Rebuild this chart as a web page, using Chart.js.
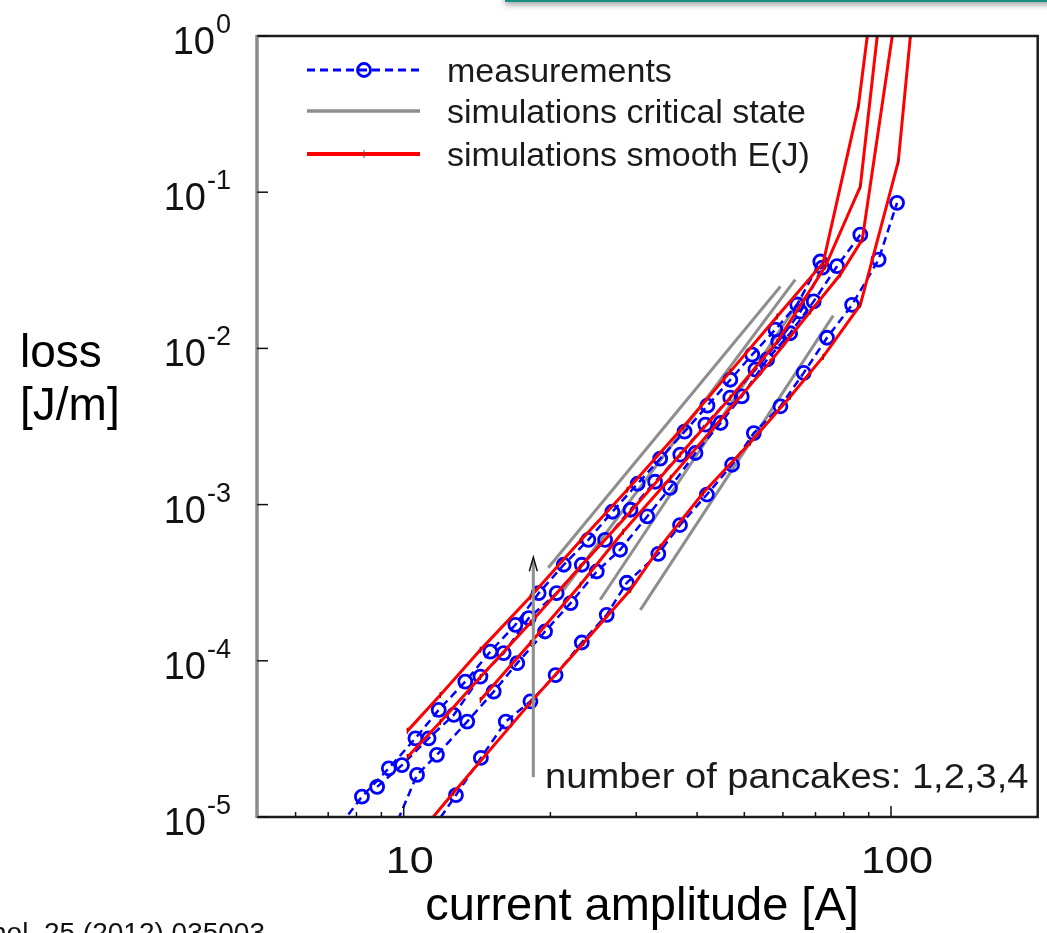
<!DOCTYPE html>
<html>
<head>
<meta charset="utf-8">
<style>
  html, body { margin: 0; padding: 0; background: #fff; overflow: hidden; }
  #wrap { position: relative; width: 1047px; height: 933px; overflow: hidden; }
  #topbox { position: absolute; left: 505px; top: -40px; width: 560px; height: 40px;
            background: #f4f8f7; border-bottom: 2px solid #17907f;
            box-shadow: 0 3px 6px rgba(0,0,0,0.35); }
  #cite { position: absolute; right: 782px; top: 917px; white-space: nowrap;
          font: 28px 'Liberation Sans', Arial, sans-serif; color: #111; }
</style>
<script src="https://cdn.jsdelivr.net/npm/chart.js@4.4.1/dist/chart.umd.min.js"></script>
</head>
<body>
<div id="wrap">
  <canvas id="lossChart" width="1047" height="933"></canvas>
  <div id="topbox"></div>
  <div id="cite">Supercond. Sci. Technol. 25 (2012) 035003</div>
</div>
<script>
// measurements, 1..4 pancakes (current amplitude [A], loss [J/m])
const meas1I = [11.5, 12.8, 14.4, 16.2, 18.2, 20.5, 23.2, 26.1, 28.7, 33.3, 36.9, 41.9, 47.2, 52.3, 59.3, 66.2, 73.9, 83.2, 94.3, 102.9];
const meas1Q = [8.5e-6, 1.38e-5, 2.39e-5, 4.08e-5, 5.5e-5, 8.1e-5, 1.31e-4, 1.97e-4, 3.16e-4, 4.84e-4, 7.4e-4, 1.16e-3, 1.8e-3, 2.87e-3, 4.26e-3, 6.97e-3, 0.0117, 0.019, 0.037, 0.0855];
const meas2I = [9.5, 10.65, 11.7, 13.5, 15.3, 17.1, 19.5, 22.0, 24.9, 27.8, 31.6, 35.2, 39.7, 44.7, 49.4, 55.7, 62.1, 69.4, 77.5, 86.5];
const meas2Q = [8e-6, 1.86e-5, 2.5e-5, 4.08e-5, 6.35e-5, 9.66e-5, 1.54e-4, 2.34e-4, 3.73e-4, 5.14e-4, 8.4e-4, 1.28e-3, 2.14e-3, 3.33e-3, 4.93e-3, 8.5e-3, 0.0125, 0.0200, 0.0336, 0.0535];
const meas3I = [8.82, 9.92, 11.25, 12.67, 14.37, 16.04, 18.05, 20.6, 23.2, 25.9, 29.2, 32.8, 36.95, 41.6, 46.8, 52.7, 58.7, 65.2, 72.3];
const meas3Q = [1.56e-5, 2.15e-5, 3.19e-5, 4.5e-5, 7.92e-5, 1.12e-4, 1.875e-4, 2.71e-4, 4.12e-4, 5.95e-4, 9.27e-4, 1.40e-3, 2.09e-3, 3.25e-3, 4.84e-3, 7.31e-3, 0.01105, 0.0172, 0.0329];
const meas4I = [7.42, 8.21, 9.32, 10.57, 11.8, 13.38, 15.06, 16.95, 18.92, 21.3, 23.93, 26.8, 30.2, 33.6, 37.7, 42.0, 46.8, 51.9, 57.9, 64.2, 71.6];
const meas4Q = [8.9e-6, 1.35e-5, 2.05e-5, 3.19e-5, 4.85e-5, 7.36e-5, 1.146e-4, 1.70e-4, 2.71e-4, 4.12e-4, 5.95e-4, 9.0e-4, 1.36e-3, 1.97e-3, 2.93e-3, 4.3e-3, 6.3e-3, 9.12e-3, 0.0132, 0.0191, 0.036];

// simulations, smooth E(J)
const sim1I = [11.0, 12.65, 18.2, 23.4, 29.2, 33.6, 41.2, 51.4, 62.1, 72.6, 86.5, 103.5, 109.6, 112];
const sim1Q = [8.5e-6, 1.43e-5, 5.4e-5, 1.3e-4, 2.85e-4, 5.37e-4, 1.19e-3, 2.49e-3, 4.9e-3, 8.85e-3, 0.019, 0.157, 1.0, 1.6];
const sim2I = [14.37, 18.2, 23.04, 28.2, 35.3, 44.7, 56.5, 68.3, 78.7, 87.3, 100.6, 103];
const sim2Q = [5.62e-5, 1.30e-4, 3.07e-4, 6.7e-4, 1.486e-3, 3.5e-3, 8.2e-3, 0.0172, 0.0297, 0.0497, 1.0, 1.72];
const sim3I = [10.18, 11.89, 14.37, 18.2, 23.04, 29.2, 36.95, 46.8, 58.4, 73.3, 86.5, 93.7, 94.6];
const sim3Q = [2.42e-5, 4.06e-5, 7.88e-5, 1.75e-4, 4.0e-4, 9.0e-4, 2.09e-3, 4.84e-3, 0.01105, 0.0334, 0.1087, 1.0, 1.72];
const sim4I = [10.18, 11.89, 14.37, 18.2, 23.04, 28.77, 37.5, 46.8, 58.4, 72.6, 85.7, 89.4, 90.7];
const sim4Q = [3.56e-5, 6.05e-5, 1.175e-4, 2.57e-4, 5.87e-4, 1.245e-3, 3.15e-3, 7.1e-3, 0.016, 0.0354, 0.354, 1.0, 1.7];

// simulations, critical state
const crit1I = [30.6, 76.1];
const crit1Q = [2.12e-4, 0.0162];
const crit2I = [25.3, 65.8];
const crit2Q = [2.46e-4, 0.0215];
const crit3I = [21.3, 63.6];
const crit3Q = [2.85e-4, 0.0276];
const crit4I = [19.8, 59.3];
const crit4Q = [3.94e-4, 0.0249];

// axes
const yTicks = [1, 0.1, 0.01, 0.001, 0.0001, 0.00001];
const yTickExp = ['0', '-1', '-2', '-3', '-4', '-5'];
const xMajor = [10, 100];
const xMinor = [6, 7, 8, 9, 20, 30, 40, 50, 60, 70, 80, 90];
const xTitle = 'current amplitude [A]';
const yTitle = ['loss', '[J/m]'];
const legendLabels = ['measurements', 'simulations critical state', 'simulations smooth E(J)'];
const noteText = 'number of pancakes: 1,2,3,4';

const FONT = "'Liberation Sans', Arial, sans-serif";
const BLUE = '#0000ff', RED = '#ff0000', GREY = '#8e8e8e';

const pts = (xs, ys) => xs.map((v, i) => ({ x: v, y: ys[i] }));

const measSet = (xs, ys) => ({
  data: pts(xs, ys), order: 2,
  borderColor: BLUE, borderWidth: 2.5, borderDash: [8, 5],
  pointStyle: 'circle', pointRadius: 6.5, pointBorderWidth: 2.8,
  pointBorderColor: BLUE, pointBackgroundColor: 'rgba(0,0,0,0)',
});
const simSet = (xs, ys) => ({
  data: pts(xs, ys), order: 1,
  borderColor: RED, borderWidth: 3,
  pointStyle: 'line', pointRotation: 90, pointRadius: 3,
  pointBorderWidth: 1.5, pointBorderColor: '#b00000',
});
const critSet = (xs, ys) => ({
  data: pts(xs, ys), order: 3,
  borderColor: GREY, borderWidth: 3, pointRadius: 0,
});

const decorations = {
  id: 'decorations',
  afterDraw(chart) {
    const { ctx, chartArea: a, scales: { x, y } } = chart;
    ctx.save();

    // frame
    ctx.strokeStyle = '#1c1c1c';
    ctx.lineWidth = 2.5;
    ctx.beginPath();
    ctx.moveTo(a.left, a.top);
    ctx.lineTo(a.right, a.top);
    ctx.lineTo(a.right, a.bottom);
    ctx.lineTo(a.left, a.bottom);
    ctx.stroke();
    ctx.strokeStyle = '#8a8a8a';
    ctx.lineWidth = 3.5;
    ctx.beginPath();
    ctx.moveTo(a.left, a.top - 1);
    ctx.lineTo(a.left, a.bottom + 1);
    ctx.stroke();

    // ticks
    ctx.strokeStyle = '#111';
    ctx.lineWidth = 1.5;
    yTicks.forEach(v => {
      const py = y.getPixelForValue(v);
      ctx.beginPath(); ctx.moveTo(a.left, py); ctx.lineTo(a.left + 11, py); ctx.stroke();
    });
    xMinor.forEach(v => {
      const px = x.getPixelForValue(v);
      ctx.beginPath(); ctx.moveTo(px, a.bottom); ctx.lineTo(px, a.bottom - 5); ctx.stroke();
    });
    xMajor.forEach(v => {
      const px = x.getPixelForValue(v);
      ctx.beginPath(); ctx.moveTo(px, a.bottom); ctx.lineTo(px, a.bottom - 11); ctx.stroke();
    });

    // y tick labels 10^n
    ctx.fillStyle = '#111';
    ctx.textAlign = 'right';
    ctx.textBaseline = 'alphabetic';
    yTicks.forEach((v, i) => {
      const py = y.getPixelForValue(v);
      ctx.font = '27px ' + FONT;
      const w = ctx.measureText(yTickExp[i]).width;
      ctx.fillText(yTickExp[i], 231, py - 3);
      ctx.font = '38px ' + FONT;
      ctx.fillText('10', 231 - w - 1, py + 18);
    });

    // x tick labels
    ctx.textAlign = 'center';
    xMajor.forEach(v => {
      const px = x.getPixelForValue(v) + 6;
      ctx.save();
      ctx.translate(px, 873);
      ctx.scale(1.2, 1);
      ctx.font = '36px ' + FONT;
      ctx.fillText(String(v), 0, 0);
      ctx.restore();
    });

    // axis titles
    ctx.font = '47px ' + FONT;
    ctx.fillStyle = '#000';
    ctx.textAlign = 'center';
    ctx.fillText(xTitle, 642, 920);
    ctx.font = '46px ' + FONT;
    ctx.textAlign = 'left';
    ctx.fillText(yTitle[0], 20, 367);
    ctx.fillText(yTitle[1], 20, 420);

    // legend
    const rows = [70, 111, 154];
    ctx.font = '34px ' + FONT;
    ctx.fillStyle = '#1a1a1a';
    legendLabels.forEach((t, i) => ctx.fillText(t, 447, rows[i] + 12));
    ctx.lineCap = 'butt';
    ctx.strokeStyle = BLUE; ctx.lineWidth = 3; ctx.setLineDash([8, 5]);
    ctx.beginPath(); ctx.moveTo(307, rows[0]); ctx.lineTo(420, rows[0]); ctx.stroke();
    ctx.setLineDash([]); ctx.lineWidth = 2.8;
    ctx.beginPath(); ctx.arc(364, rows[0], 6.5, 0, Math.PI * 2); ctx.stroke();
    ctx.strokeStyle = GREY; ctx.lineWidth = 3.5;
    ctx.beginPath(); ctx.moveTo(307, rows[1]); ctx.lineTo(420, rows[1]); ctx.stroke();
    ctx.strokeStyle = RED; ctx.lineWidth = 4;
    ctx.beginPath(); ctx.moveTo(307, rows[2]); ctx.lineTo(420, rows[2]); ctx.stroke();
    ctx.strokeStyle = '#555'; ctx.lineWidth = 1;
    ctx.beginPath(); ctx.moveTo(364, rows[2] - 4); ctx.lineTo(364, rows[2] + 4); ctx.stroke();

    // arrow for number of pancakes
    const ax = x.getPixelForValue(18.45);
    const ay0 = y.getPixelForValue(1.8e-5);
    const ay1 = y.getPixelForValue(4.6e-4);
    ctx.strokeStyle = GREY; ctx.lineWidth = 3;
    ctx.beginPath(); ctx.moveTo(ax, ay0); ctx.lineTo(ax, ay1 + 4); ctx.stroke();
    ctx.strokeStyle = '#111'; ctx.lineWidth = 1.5;
    ctx.beginPath();
    ctx.moveTo(ax - 4, ay1 + 14); ctx.lineTo(ax, ay1); ctx.lineTo(ax + 4, ay1 + 14);
    ctx.stroke();
    ctx.save();
    ctx.translate(545, 788);
    ctx.scale(1.09, 1);
    ctx.font = '35px ' + FONT;
    ctx.fillStyle = '#1a1a1a';
    ctx.textAlign = 'left';
    ctx.fillText(noteText, 0, 0);
    ctx.restore();

    ctx.restore();
  }
};

new Chart(document.getElementById('lossChart'), {
  type: 'line',
  data: {
    datasets: [
      simSet(sim1I, sim1Q), simSet(sim2I, sim2Q), simSet(sim3I, sim3Q), simSet(sim4I, sim4Q),
      measSet(meas1I, meas1Q), measSet(meas2I, meas2Q), measSet(meas3I, meas3Q), measSet(meas4I, meas4Q),
      critSet(crit1I, crit1Q), critSet(crit2I, crit2Q), critSet(crit3I, crit3Q), critSet(crit4I, crit4Q),
    ]
  },
  options: {
    responsive: false,
    animation: false,
    layout: { padding: { left: 257, right: 9, top: 36, bottom: 116 } },
    scales: {
      x: { type: 'logarithmic', min: 5, max: 200, display: false },
      y: { type: 'logarithmic', min: 1e-5, max: 1, display: false },
    },
    plugins: { legend: { display: false }, tooltip: { enabled: false } },
    elements: { line: { tension: 0 } },
  },
  plugins: [decorations],
});
</script>
</body>
</html>
